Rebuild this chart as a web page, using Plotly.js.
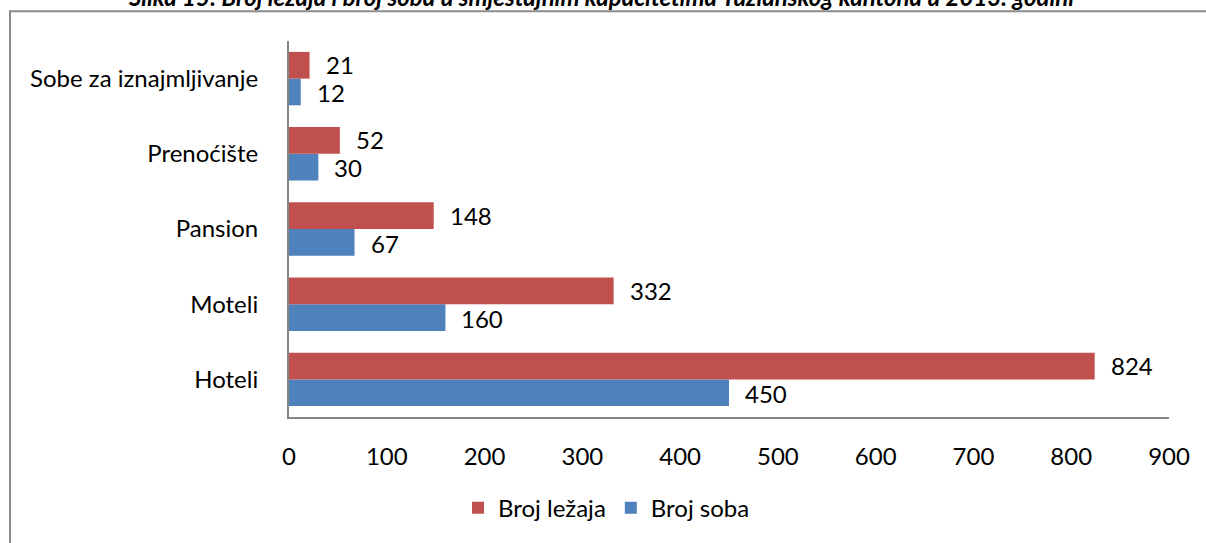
<!DOCTYPE html>
<html><head><meta charset="utf-8">
<script src="https://cdn.plot.ly/plotly-3.0.1.min.js"></script>
<style>html,body{margin:0;padding:0;background:#fff}#c{width:1206px;height:543px}</style>
</head><body><div id="c"></div>
<script>
const categories = ["Hoteli", "Moteli", "Pansion", "Prenoćište", "Sobe za iznajmljivanje"];
const brojLezaja = [824, 332, 148, 52, 21];
const brojSoba = [450, 160, 67, 30, 12];
const seriesNames = ["Broj ležaja", "Broj soba"];
const xTicks = [0, 100, 200, 300, 400, 500, 600, 700, 800, 900];
const titleText = "Slika 15: Broj ležaja i broj soba u smještajnim kapacitetima Tuzlanskog kantona u 2013. godini";

const FONT = "Lato, 'Open Sans', sans-serif";
const FS = 24;
const RED = "#C0504D", BLUE = "#4F81BD";

const traces = [
  {type: "bar", orientation: "h", name: seriesNames[1], y: categories, x: brojSoba,
   marker: {color: BLUE}, hoverinfo: "skip"},
  {type: "bar", orientation: "h", name: seriesNames[0], y: categories, x: brojLezaja,
   marker: {color: RED}, hoverinfo: "skip"}
];

const annotations = [];
categories.forEach((c, i) => {
  annotations.push({x: brojLezaja[i], y: c, xref: "x", yref: "y", text: String(brojLezaja[i]),
    showarrow: false, xanchor: "left", yanchor: "middle", xshift: 14, yshift: 14,
    font: {family: FONT, size: FS, color: "#000"}});
  annotations.push({x: brojSoba[i], y: c, xref: "x", yref: "y", text: String(brojSoba[i]),
    showarrow: false, xanchor: "left", yanchor: "middle", xshift: 14, yshift: -14,
    font: {family: FONT, size: FS, color: "#000"}});
});
annotations.push({text: "<b><i>" + titleText + "</i></b>", xref: "paper", yref: "paper",
  x: (601 - 289) / 880, y: (420 - 13) / 379, xanchor: "center", yanchor: "bottom", showarrow: false,
  font: {family: FONT, size: 24, color: "#000"}});

const layout = {
  width: 1206, height: 543,
  margin: {l: 289, r: 37, t: 41, b: 123, pad: 0},
  paper_bgcolor: "#fff", plot_bgcolor: "#fff",
  barmode: "group", bargap: 0.29, bargroupgap: 0,
  showlegend: true,
  legend: {orientation: "h", traceorder: "reversed", x: (458 - 289) / 880, xanchor: "left",
    y: (420 - 512) / 379, yanchor: "middle", font: {family: FONT, size: FS, color: "#000"},
    itemwidth: 30},
  xaxis: {range: [0, 900], tickvals: xTicks, ticktext: xTicks.map(String), showgrid: false, zeroline: false,
    showline: true, linecolor: "#868686", linewidth: 2, ticks: "", ticklabelstandoff: 17,
    tickfont: {family: FONT, size: FS, color: "#000"}, fixedrange: true},
  yaxis: {type: "category", categoryorder: "array", categoryarray: categories, showgrid: false, zeroline: false,
    showline: true, linecolor: "#868686", linewidth: 2, ticks: "", ticklabelstandoff: 24,
    tickfont: {family: FONT, size: FS, color: "#000"}, fixedrange: true},
  annotations: annotations,
  shapes: [{type: "rect", xref: "paper", yref: "paper",
    x0: (10 - 289) / 880, x1: (1215 - 289) / 880, y0: (420 - 550) / 379, y1: (420 - 11) / 379,
    line: {color: "#8c8c8c", width: 2}, fillcolor: "rgba(0,0,0,0)", layer: "below"}]
};

Plotly.newPlot("c", traces, layout, {displayModeBar: false, staticPlot: true});
</script></body></html>
